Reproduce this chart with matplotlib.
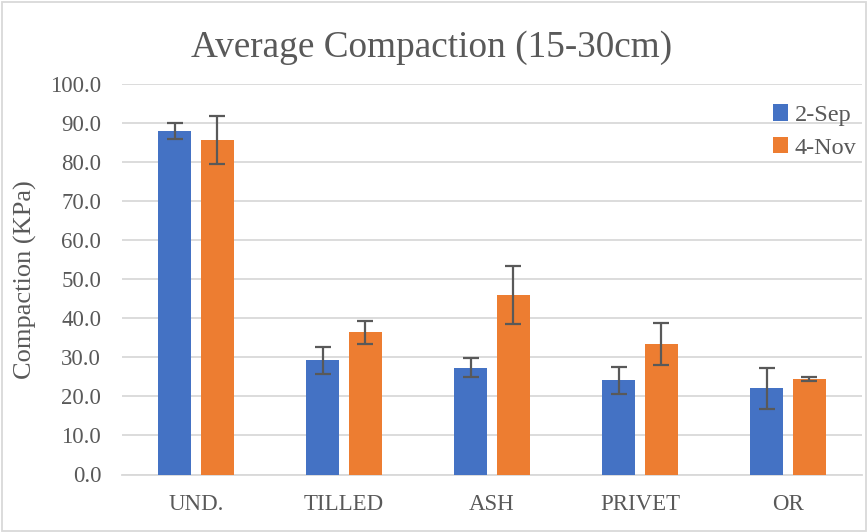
import matplotlib
matplotlib.use("Agg")
import matplotlib.pyplot as plt
import numpy as np
from matplotlib.patches import Rectangle

categories = ["UND.", "TILLED", "ASH", "PRIVET", "OR"]
sep_vals = [88.0, 29.2, 27.4, 24.1, 22.1]
sep_err = [2.0, 3.5, 2.5, 3.5, 5.2]
nov_vals = [85.6, 36.4, 46.0, 33.4, 24.4]
nov_err = [6.2, 3.0, 7.5, 5.4, 0.45]
series_names = ["2-Sep", "4-Nov"]
yticks = [0, 10, 20, 30, 40, 50, 60, 70, 80, 90, 100]

plt.rcParams['font.family'] = ['Liberation Serif', 'DejaVu Serif']

W, H = 868, 532
fig = plt.figure(figsize=(W / 100, H / 100), dpi=100)
ax = fig.add_axes([122 / W, (H - 474.5) / H, (862 - 122) / W, (474.5 - 84) / H])

x = np.arange(len(categories))
bw = 0.226
off = 0.1435
ecol = "#595959"
ax.bar(x - off, sep_vals, bw, color="#4472C4", label=series_names[0], zorder=3,
       yerr=sep_err, error_kw=dict(ecolor=ecol, elinewidth=1.6, capsize=6, capthick=1.6, zorder=4))
ax.bar(x + off, nov_vals, bw, color="#ED7D31", label=series_names[1], zorder=3,
       yerr=nov_err, error_kw=dict(ecolor=ecol, elinewidth=1.6, capsize=6, capthick=1.6, zorder=4))

ax.set_xlim(-0.5, len(categories) - 0.5)
ax.set_ylim(0, 100)
ax.set_yticks(yticks)
ax.set_yticklabels([f"{v:.1f}" for v in yticks])
ax.set_xticks(x)
ax.set_xticklabels(categories)
ax.grid(axis="y", color="#d9d9d9", linewidth=1.3, zorder=0)
ax.set_axisbelow(True)
for s in ["top", "right", "left"]:
    ax.spines[s].set_visible(False)
ax.spines["bottom"].set_color("#d9d9d9")
ax.spines["bottom"].set_linewidth(1.3)
ax.tick_params(axis="both", length=0, labelsize=16.5, labelcolor="#595959")
ax.tick_params(axis="y", pad=15)
ax.tick_params(axis="x", pad=14)

fig.text(25 / W, 1 - 280 / H, "Compaction (KPa)", fontsize=19, color="#595959",
         rotation=90, ha="center", va="center")
fig.text(432 / W, 1 - 48 / H, "Average Compaction (15-30cm)", fontsize=26.8,
         color="#595959", ha="center", va="center")

leg = ax.legend(loc="upper right", bbox_to_anchor=(1.012, 0.985), frameon=False,
                fontsize=17.5, handlelength=0.65, handleheight=0.65, handletextpad=0.25,
                labelspacing=0.45, borderaxespad=0.2)
for t in leg.get_texts():
    t.set_color("#595959")

fig.patches.append(Rectangle((0.002, 0.002), 0.996, 0.994, transform=fig.transFigure,
                             fill=False, edgecolor="#d9d9d9", linewidth=1.3))

fig.savefig("out.png", dpi=100)
